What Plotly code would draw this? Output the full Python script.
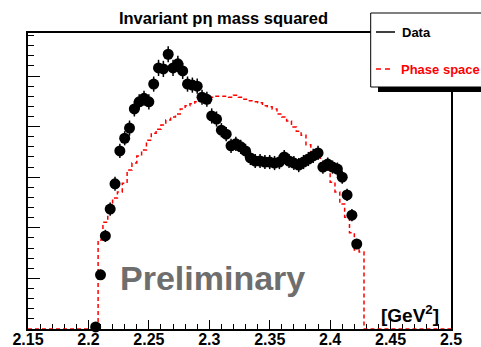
import plotly.graph_objects as go

# bin centres (GeV^2)
bin_centers = [2.206, 2.210, 2.214, 2.218, 2.222, 2.226, 2.230, 2.234, 2.238, 2.242,
               2.246, 2.250, 2.254, 2.258, 2.262, 2.266, 2.270, 2.274, 2.278, 2.282,
               2.286, 2.290, 2.294, 2.298, 2.302, 2.306, 2.310, 2.314, 2.318, 2.322,
               2.326, 2.330, 2.334, 2.338, 2.342, 2.346, 2.350, 2.354, 2.358, 2.362,
               2.366, 2.370, 2.374, 2.378, 2.382, 2.386, 2.390, 2.394, 2.398, 2.402,
               2.406, 2.410, 2.414, 2.418, 2.422, 2.426, 2.430]

data_counts = [4, 107, 184, 237, 287, 352, 377, 397, 435, 449,
               456, 449, 484, 516, 514, 543, 516, 524, 510, 484,
               482, 480, 458, 454, 421, 415, 393, 385, 362, 366,
               360, 352, 338, 332, 332, 330, 330, 328, 330, 340,
               332, 328, 324, 330, 336, 342, 348, 320, 326, 320,
               316, 300, 265, 225, 168]

data_errors = [4, 10, 12, 13, 14, 14, 14, 15, 15, 15,
               15, 15, 15, 16, 16, 16, 16, 16, 16, 15,
               15, 15, 15, 15, 15, 15, 14, 14, 14, 14,
               14, 14, 14, 14, 14, 14, 14, 14, 14, 14,
               14, 14, 14, 14, 14, 14, 14, 13, 13, 13,
               13, 13, 12, 12, 10]

phase_space = [0, 176, 211, 239, 259, 271, 288, 314, 328, 342,
               354, 373, 387, 395, 403, 413, 419, 425, 435, 441,
               445, 449, 453, 454, 458, 460, 460, 460, 458, 462,
               458, 454, 451, 449, 447, 441, 439, 435, 425, 419,
               411, 399, 391, 383, 364, 348, 338, 324, 314, 290,
               271, 247, 221, 190, 156, 152, 0]

x_range = [2.15, 2.5]
y_range = [0, 585]
x_tick_vals = [2.15, 2.2, 2.25, 2.3, 2.35, 2.4, 2.45, 2.5]
x_tick_text = ["2.15", "2.2", "2.25", "2.3", "2.35", "2.4", "2.45", "2.5"]

FONT = "Liberation Sans, Arial, Helvetica, sans-serif"

fig = go.Figure()

fig.add_trace(go.Scatter(
    x=[x_range[0]] + bin_centers + [x_range[1]],
    y=[0] + phase_space + [0],
    mode="lines",
    line=dict(color="#ff0000", width=1.5, dash="4px,3px", shape="hvh"),
    showlegend=False,
    hoverinfo="skip",
))

fig.add_trace(go.Scatter(
    x=bin_centers[:len(data_counts)],
    y=data_counts,
    mode="markers",
    marker=dict(color="black", size=11),
    error_y=dict(type="data", array=data_errors, color="black", thickness=1.5, width=0),
    cliponaxis=False,
    showlegend=False,
))

W, H = 481, 347
L, R, T, B = 28, 30, 33, 18
pw, ph = W - L - R, H - T - B


def px(xp):
    return (xp - L) / pw


def py(yp):
    return (H - B - yp) / ph


shapes = [
    dict(type="rect", xref="paper", yref="paper", x0=px(378), x1=px(490),
         y0=py(92), y1=py(87), fillcolor="black", line=dict(width=0)),
    dict(type="rect", xref="paper", yref="paper", x0=px(370.7), x1=px(490),
         y0=py(87), y1=py(13), fillcolor="white", line=dict(color="black", width=1)),
    dict(type="line", xref="paper", yref="paper", x0=px(376), x1=px(395),
         y0=py(32), y1=py(32), line=dict(color="black", width=1.5)),
    dict(type="line", xref="paper", yref="paper", x0=px(376), x1=px(394),
         y0=py(69), y1=py(69), line=dict(color="#ff0000", width=1.5, dash="5px,4px")),
]

annotations = [
    dict(text="Data", xref="paper", yref="paper", x=px(400), y=py(32),
         xanchor="left", yanchor="middle", showarrow=False,
         font=dict(family=FONT, size=13, color="black", weight="bold")),
    dict(text="Phase space", xref="paper", yref="paper", x=px(399), y=py(69),
         xanchor="left", yanchor="middle", showarrow=False,
         font=dict(family=FONT, size=13, color="#ff0000", weight="bold")),
    dict(text="Preliminary", xref="paper", yref="paper", x=px(212.5), y=py(278),
         xanchor="center", yanchor="middle", showarrow=False,
         font=dict(family=FONT, size=34, color="#6e6e6e", weight="bold")),
    dict(text="[GeV<sup>2</sup>]", xref="paper", yref="paper", x=px(410), y=py(314),
         xanchor="center", yanchor="middle", showarrow=False,
         font=dict(family=FONT, size=19, color="black", weight="bold")),
]

fig.update_layout(
    width=W, height=H,
    margin=dict(l=L, r=R, t=T, b=B, pad=0, autoexpand=False),
    paper_bgcolor="white", plot_bgcolor="white",
    title=dict(text="Invariant p\u03b7 mass squared", x=223.5 / W, xref="container",
               xanchor="center", y=1 - 18 / H, yanchor="middle", yref="container",
               font=dict(family=FONT, size=16.5, color="black", weight="bold"),
               automargin=False),
    shapes=shapes,
    annotations=annotations,
    showlegend=False,
)

fig.update_xaxes(
    range=x_range, showgrid=False, zeroline=False, automargin=False,
    showline=True, linecolor="black", linewidth=1.5, mirror=True,
    ticks="inside", ticklen=9, tickwidth=1, tickcolor="black",
    tickvals=x_tick_vals, ticktext=x_tick_text, ticklabelstandoff=-5,
    tickfont=dict(family=FONT, size=16, color="black", weight="bold"),
    minor=dict(dtick=0.01, tick0=2.15, ticks="inside", ticklen=5, tickcolor="black", tickwidth=1),
    layer="below traces",
)
fig.update_yaxes(
    range=y_range, showgrid=False, zeroline=False, automargin=False,
    showline=True, linecolor="black", linewidth=1.5, mirror=True,
    ticks="inside", ticklen=12, tickwidth=1, tickcolor="black",
    dtick=100, tick0=0, showticklabels=False,
    minor=dict(dtick=20, tick0=0, ticks="inside", ticklen=6, tickcolor="black", tickwidth=1),
    layer="below traces",
)

fig.write_html("out.html", config={"displayModeBar": False},
               post_script="document.body.style.margin='0';document.body.style.overflow='hidden';")
